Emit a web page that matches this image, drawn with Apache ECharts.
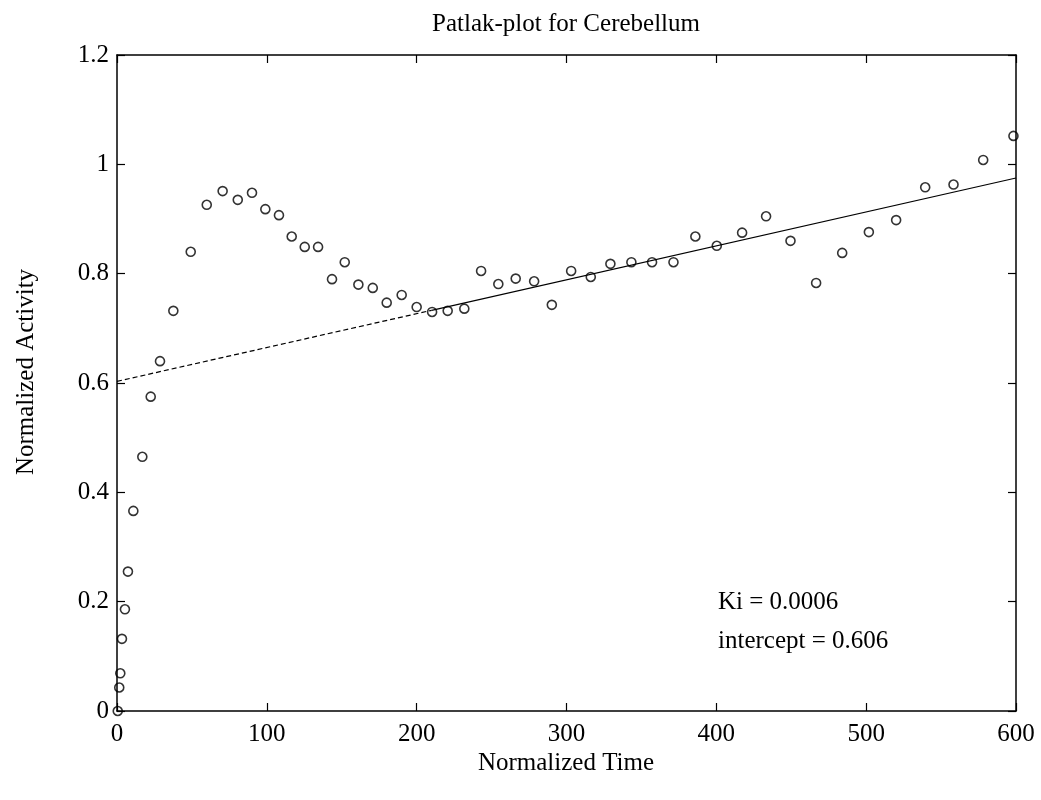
<!DOCTYPE html>
<html><head><meta charset="utf-8">
<script src="https://cdn.jsdelivr.net/npm/echarts@6/dist/echarts.min.js"></script>
<style>html,body{margin:0;padding:0;background:#fff}#c{width:1041px;height:800px}</style>
</head><body><div id="c"></div>
<script>
const chartTitle = 'Patlak-plot for Cerebellum';
const xAxisTitle = 'Normalized Time';
const yAxisTitle = 'Normalized Activity';
const annotations = ['Ki = 0.0006', 'intercept = 0.606'];

const times = [0.5, 1.5, 2.2, 3.3, 5.3, 7.3, 10.9, 16.9, 22.5, 28.7,
  37.6, 49.2, 59.9, 70.5, 80.6, 90.1, 99.0, 108.1, 116.6, 125.3,
  134.2, 143.5, 152.0, 161.1, 170.7, 180.0, 190.0, 200.0, 210.3, 220.7,
  231.8, 243.0, 254.5, 266.1, 278.4, 290.2, 303.1, 316.2, 329.3, 343.3,
  357.1, 371.4, 386.0, 400.3, 417.2, 433.2, 449.5, 466.6, 484.0, 501.8,
  520.0, 539.4, 558.3, 578.1, 598.3];
const activity = [0, 0.043, 0.069, 0.132, 0.186, 0.255, 0.366, 0.465, 0.575, 0.640,
  0.732, 0.840, 0.926, 0.951, 0.935, 0.948, 0.918, 0.907, 0.868, 0.849,
  0.849, 0.790, 0.821, 0.780, 0.774, 0.747, 0.761, 0.739, 0.730, 0.732,
  0.736, 0.805, 0.781, 0.791, 0.786, 0.743, 0.805, 0.794, 0.818, 0.821,
  0.821, 0.821, 0.868, 0.851, 0.875, 0.905, 0.860, 0.783, 0.838, 0.876,
  0.898, 0.958, 0.963, 1.008, 1.052];
const fitDashed = [[0, 0.603], [210, 0.733]];
const fitSolid = [[210, 0.733], [600, 0.975]];

const FONT = '"Liberation Serif", "Times New Roman", serif';
const chart = echarts.init(document.getElementById('c'), null, {renderer: 'canvas'});
const axisCommon = {
  type: 'value',
  axisLine: {show: true, onZero: false, lineStyle: {color: '#000', width: 1.5}},
  axisTick: {show: true, inside: true, length: 8, lineStyle: {color: '#000', width: 1.2}},
  splitLine: {show: false}
};
const xBase = Object.assign({}, axisCommon, {min: 0, max: 600, interval: 100});
const yBase = Object.assign({}, axisCommon, {min: 0, max: 1.2, interval: 0.2});
chart.setOption({
  animation: false,
  backgroundColor: '#fff',
  grid: {left: 117, right: 25, top: 55, bottom: 89},
  xAxis: [
    Object.assign({}, xBase, {position: 'bottom', axisLabel: {color: '#000', fontFamily: FONT, fontSize: 25, margin: 11}}),
    Object.assign({}, xBase, {position: 'top', axisLabel: {show: false}})
  ],
  yAxis: [
    Object.assign({}, yBase, {position: 'left', axisLabel: {color: '#000', fontFamily: FONT, fontSize: 25, margin: 8,
      formatter: v => String(Math.round(v * 10) / 10)}}),
    Object.assign({}, yBase, {position: 'right', axisLabel: {show: false}})
  ],
  series: [
    {type: 'line', data: fitDashed, symbol: 'none', lineStyle: {color: '#000', width: 1.2, type: [5, 3]}},
    {type: 'line', data: fitSolid, symbol: 'none', lineStyle: {color: '#000', width: 1.2}},
    {type: 'scatter', data: times.map((t, i) => [t, activity[i]]), symbol: 'circle', symbolSize: 9,
      itemStyle: {color: 'rgba(0,0,0,0)', borderColor: '#000', borderWidth: 1.6}}
  ],
  graphic: [
    {type: 'text', x: 566, y: 24, style: {text: chartTitle, font: '25px ' + FONT, fill: '#000', align: 'center', verticalAlign: 'middle'}},
    {type: 'text', x: 566, y: 763, style: {text: xAxisTitle, font: '25px ' + FONT, fill: '#000', align: 'center', verticalAlign: 'middle'}},
    {type: 'text', x: 26, y: 372, rotation: Math.PI / 2, style: {text: yAxisTitle, font: '25px ' + FONT, fill: '#000', align: 'center', verticalAlign: 'middle'}},
    {type: 'text', x: 718, y: 602, style: {text: annotations[0], font: '25px ' + FONT, fill: '#000', align: 'left', verticalAlign: 'middle'}},
    {type: 'text', x: 718, y: 641, style: {text: annotations[1], font: '25px ' + FONT, fill: '#000', align: 'left', verticalAlign: 'middle'}}
  ]
});
</script></body></html>
